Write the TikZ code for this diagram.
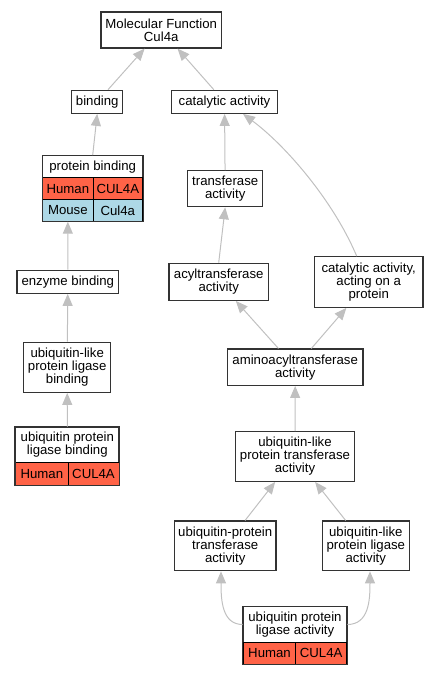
\documentclass[tikz,border=0pt]{standalone}
\usepackage{fontspec}
\setmainfont{Liberation Sans}
\usetikzlibrary{arrows.meta}
\definecolor{boxc}{HTML}{333333}
\definecolor{edgec}{HTML}{C0C0C0}
\definecolor{humanc}{HTML}{FF6347}
\definecolor{mousec}{HTML}{ADD8E6}
\newcommand{\gofont}{\fontsize{13.2}{13}\selectfont}
\tikzset{
  term/.style={draw=boxc,line width=1.2pt,line join=miter,fill=white,align=center,inner sep=0pt,font=\gofont},
  cell/.style={draw=black,line width=0.8pt,line join=miter,inner sep=0pt,font=\gofont,minimum height=22pt},
  human/.style={cell,fill=humanc},
  mouse/.style={cell,fill=mousec},
  outline/.style={draw=boxc,line width=1.2pt,line join=miter},
  edge/.style={draw=edgec,line width=1pt,-{Triangle[length=12pt,width=10pt]}},
}
\begin{document}
\begin{tikzpicture}[x=1pt,y=-1pt,line join=bevel]
\useasboundingbox (0,0) rectangle (437,675);
%%
  \node (mf) at (161.2,30) [term,minimum width=120.3pt,minimum height=36pt] {Molecular Function\\Cul4a};
  \node (binding) at (97.2,101.8) [term,minimum width=51pt,minimum height=23pt] {binding};
  \node (cat) at (224.5,101.8) [term,minimum width=105.6pt,minimum height=23pt] {catalytic activity};
  \node (tra) at (225.2,188.7) [term,minimum width=75pt,minimum height=36pt] {transferase\\activity};
  \node (enz) at (67.8,281.8) [term,minimum width=101.7pt,minimum height=23pt] {enzyme binding};
  \node (ulplb) at (67.2,367.3) [term,minimum width=87pt,minimum height=50pt] {ubiquitin-like\\protein ligase\\binding};
  \node (acyl) at (218.7,281.8) [term,minimum width=99.3pt,minimum height=37pt] {acyltransferase\\activity};
  \node (cap) at (368.7,282) [term,minimum width=108.7pt,minimum height=50.6pt] {catalytic activity,\\acting on a\\protein};
  \node (amino) at (295.2,367.2) [term,minimum width=135.7pt,minimum height=36.3pt] {aminoacyltransferase\\activity};
  \node (ulpta) at (295,456.5) [term,minimum width=118.6pt,minimum height=49.6pt] {ubiquitin-like\\protein transferase\\activity};
  \node (upta) at (225.2,545.9) [term,minimum width=101.7pt,minimum height=49.7pt] {ubiquitin-protein\\transferase\\activity};
  \node (ulpla) at (365.8,545.9) [term,minimum width=87pt,minimum height=49.7pt] {ubiquitin-like\\protein ligase\\activity};

  % records with species rows
  \node (pb) at (92.7,167) [term,minimum width=100pt,minimum height=22.6pt] {protein binding};
  \node (pb_h1) at (67.85,188.8) [human,minimum width=50.3pt] {Human};
  \node (pb_h2) at (117.85,188.8) [human,minimum width=49.7pt] {CUL4A};
  \node (pb_m1) at (67.85,210.3) [mouse,minimum width=50.3pt] {Mouse};
  \node (pb_m2) at (117.85,210.3) [mouse,minimum width=49.7pt] {Cul4a};
  \draw [outline] (pb.north west) rectangle (pb_m2.south east);

  \node (uplb) at (67.3,445) [term,minimum width=103.3pt,minimum height=35.4pt] {ubiquitin protein\\ligase binding};
  \node (uplb_h1) at (41.85,474) [human,minimum width=52.3pt,minimum height=22.6pt] {Human};
  \node (uplb_h2) at (93.5,474) [human,minimum width=51pt,minimum height=22.6pt] {CUL4A};
  \draw [outline] (uplb.north west) rectangle (uplb_h2.south east);

  \node (upla) at (295,624.5) [term,minimum width=103.4pt,minimum height=35.6pt] {ubiquitin protein\\ligase activity};
  \node (upla_h1) at (269.5,653.2) [human,minimum width=52.4pt,minimum height=21.7pt] {Human};
  \node (upla_h2) at (321.2,653.2) [human,minimum width=51pt,minimum height=21.7pt] {CUL4A};
  \draw [outline] (upla.north west) rectangle (upla_h2.south east);

  \draw [edge] (binding) -- (mf);
  \draw [edge] (cat) -- (mf);
  \draw [edge] (pb.north) -- (binding.south);
  \draw [edge] (tra) -- (cat);
  \draw [edge] ([xshift=-12pt]cap.north) .. controls (333,200) and (285,145) .. ([xshift=18.5pt]cat.south);
  \draw [edge] (enz) -- (pb_m1);
  \draw [edge] (ulplb) -- (enz);
  \draw [edge] (uplb) -- (ulplb);
  \draw [edge] (acyl.north) -- (tra.south);
  \draw [edge] (amino) -- (acyl);
  \draw [edge] (amino) -- (cap);
  \draw [edge] (ulpta) -- (amino);
  \draw [edge] (upta) -- (ulpta);
  \draw [edge] (ulpla) -- (ulpta);
  \draw [edge] (upla.west) .. controls (222,624.5) and (221,600) .. ([xshift=-4.2pt]upta.south);
  \draw [edge] (upla.east) .. controls (369,624.5) and (370,600) .. ([xshift=4.2pt]ulpla.south);
%
\end{tikzpicture}
\end{document}
